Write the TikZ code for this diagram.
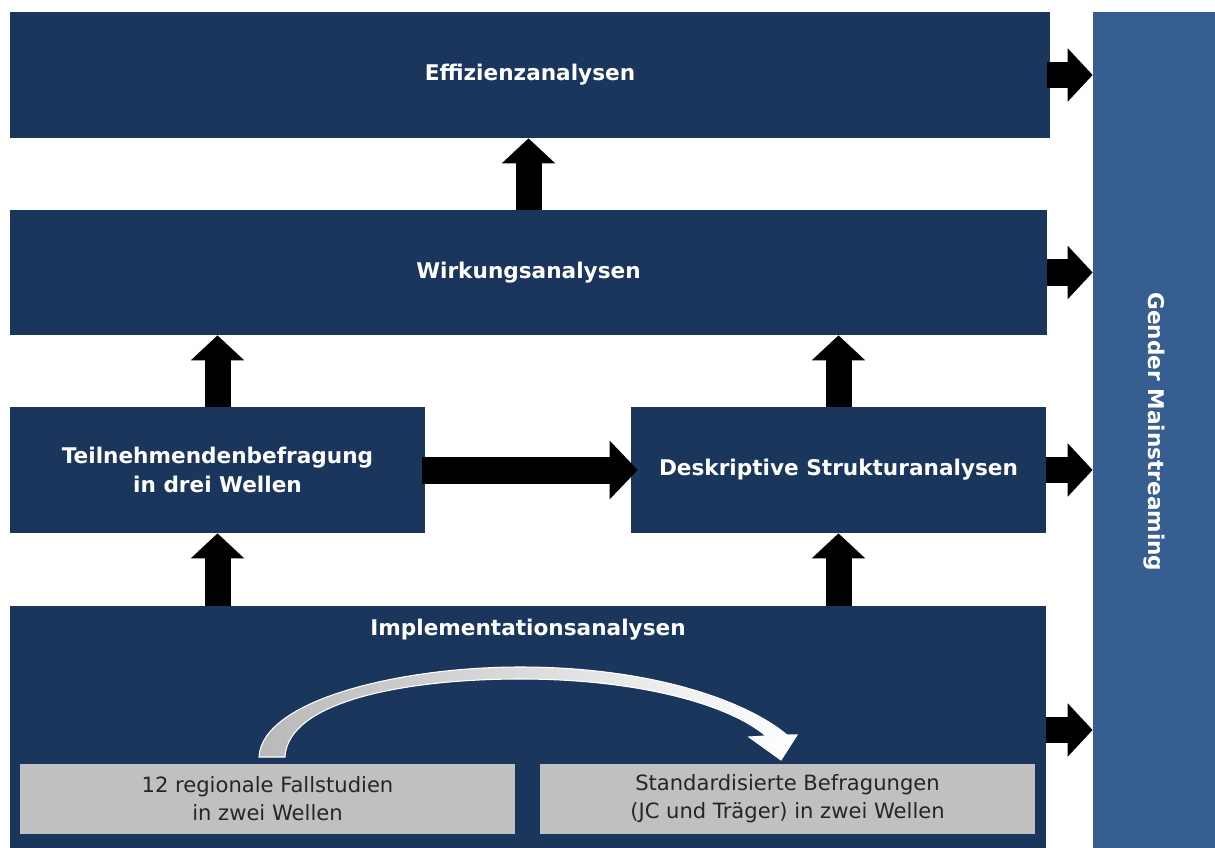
\documentclass[tikz,border=0pt]{standalone}
\usepackage{fontspec}
\setmainfont{DejaVu Sans}
\usetikzlibrary{arrows.meta}

\definecolor{navy}{RGB}{27,54,93}
\definecolor{gmblue}{RGB}{54,94,145}
\definecolor{boxgrey}{RGB}{192,192,192}

\begin{document}
\begin{tikzpicture}[x=0.02cm,y=-0.02cm,
    level/.style={fill=navy,text=white,font=\bfseries\fontsize{12.3}{17}\selectfont,align=center,inner sep=0pt},
    study/.style={fill=boxgrey,text=black!85,font=\fontsize{12}{16}\selectfont,align=center,inner sep=0pt,minimum width=495*0.02cm,minimum height=70*0.02cm},
    blockarrow/.style={line width=26*0.02cm,-{Triangle[length=25*0.02cm,width=52*0.02cm]}},
    bigarrow/.style={line width=27*0.02cm,-{Triangle[length=28*0.02cm,width=57*0.02cm]}}]

    \useasboundingbox (0,0) rectangle (1215,848);

    % levels
    \node[level,minimum width=1040*0.02cm,minimum height=126*0.02cm] (eff) at (530,75) {Effizienzanalysen};
    \node[level,minimum width=1037*0.02cm,minimum height=125*0.02cm] (wirk) at (528.5,272.5) {Wirkungsanalysen};
    \node[level,minimum width=415*0.02cm,minimum height=126*0.02cm] (teil) at (217.5,470) {Teilnehmendenbefragung\\in drei Wellen};
    \node[level,minimum width=415*0.02cm,minimum height=126*0.02cm] (desk) at (838.5,470) {Deskriptive Strukturanalysen};
    \node[level,minimum width=1036*0.02cm,minimum height=242*0.02cm] (impl) at (528,727) {};
    \node[text=white,font=\bfseries\fontsize{12.3}{17}\selectfont] (impltext) at (528,630) {Implementationsanalysen};

    \node[fill=gmblue,minimum width=122*0.02cm,minimum height=836*0.02cm,inner sep=0pt] (gm) at (1154,430) {};
    \node[rotate=-90,text=white,font=\bfseries\fontsize{12.3}{17}\selectfont] (gmtext) at (1154,432) {Gender Mainstreaming};

    % studies
    \node[study] (fall) at (267.5,799) {12 regionale Fallstudien\\in zwei Wellen};
    \node[study] (befr) at (787.5,799) {Standardisierte Befragungen\\(JC und Träger) in zwei Wellen};

    % curved arrow
    \shade[left color=gray!55,right color=white,draw=white,line width=0.6pt]
        (259,757) .. controls (262,700) and (400,667) .. (520,667)
        .. controls (650,667) and (745,700) .. (787,735) -- (797,735) -- (781,760) -- (749,737) -- (766,736)
        .. controls (730,705) and (640,679) .. (520,679)
        .. controls (410,679) and (288,700) .. (285,757) -- cycle;

    % arrows up
    \draw[blockarrow] (wirk.north) -- (wirk.north |- eff.south);
    \draw[blockarrow] (teil.north) -- (teil.north |- wirk.south);
    \draw[blockarrow] (desk.north) -- (desk.north |- wirk.south);
    \draw[blockarrow] (teil.south |- impl.north) -- (teil.south);
    \draw[blockarrow] (desk.south |- impl.north) -- (desk.south);

    % arrows to gender mainstreaming
    \draw[blockarrow] ([xshift=-2]eff.east) -- (gm.west |- eff.east);
    \draw[blockarrow] (wirk.east) -- (gm.west |- wirk.east);
    \draw[blockarrow] (desk.east) -- (gm.west |- desk.east);
    \draw[blockarrow] (impl.east |- 0,730) -- (gm.west |- 0,730);

    \draw[bigarrow] ([xshift=-2]teil.east) -- ([xshift=4]desk.west);
\end{tikzpicture}
\end{document}
